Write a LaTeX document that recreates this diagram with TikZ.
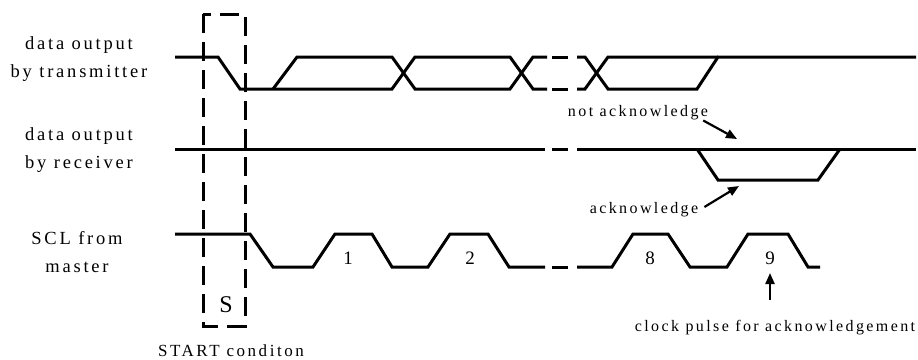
\documentclass[tikz,border=0pt]{standalone}
\usepackage{fontspec}
\setmainfont{Liberation Serif}
\newfontfamily\labfont[LetterSpace=15]{Liberation Serif}
\usepackage{tikz}
\usetikzlibrary{arrows.meta}
\usetikzlibrary{calc}
\usetikzlibrary{positioning}

\tikzset{
  sig/.style={line width=3pt},
  brk/.style={line width=3pt},
  startbox/.style={line width=3pt, dash pattern=on 19pt off 9pt},
  lbl/.style={inner sep=0pt, align=center, font=\labfont\fontsize{18.5}{28}\selectfont},
  note/.style={inner sep=0pt, font=\labfont\fontsize{16}{20}\selectfont},
  num/.style={inner sep=0pt, font=\fontsize{19}{22}\selectfont},
  pointer/.style={line width=2.2pt, -{Triangle[length=11pt,width=9pt]}}
}

\begin{document}
\begin{tikzpicture}[x=1pt, y=-1pt]
    \useasboundingbox (0,0) rectangle (918,359);
    % labels on the left
    \node[lbl] (tx) at (79,59) {data output\\by transmitter};
    \node[lbl] (rx) at (79,150) {data output\\by receiver};
    \node[lbl] (scl) at (77,252) {SCL from\\master};
    % start condition box
    \draw[startbox] (203,14) rectangle (245,326);
    \node[num, font=\fontsize{24}{26}\selectfont] (S) at (226,305) {S};
    \node[note, font=\labfont\fontsize{17}{20}\selectfont] (start) at (231,351) {START conditon};
    % transmitter
    \draw[sig] (175,57) -- (218,57) -- (240,89) -- (392,89) -- (415,57) -- (510,57) -- (533,89) -- (547,89);
    \draw[sig] (273,89) -- (297,57) -- (392,57) -- (415,89) -- (510,89) -- (533,57) -- (547,57);
    \draw[brk] (552,57) -- (568,57);
    \draw[brk] (552,89) -- (568,89);
    \draw[sig] (577,57) -- (585,57) -- (608,89) -- (697,89) -- (718,57) -- (916,57);
    \draw[sig] (577,89) -- (585,89) -- (608,57) -- (718,57);
    % receiver
    \draw[sig] (175,149) -- (545,149);
    \draw[brk] (552,149) -- (568,149);
    \draw[sig] (577,149) -- (916,149);
    \draw[sig] (697,149) -- (718,180) -- (818,180) -- (840,149);
    % clock
    \draw[sig] (175,234) -- (250,234) -- (273,267) -- (313,267) -- (335,234) -- (372,234) -- (392,267) -- (428,267)
      -- (450,234) -- (488,234) -- (509,267) -- (545,267);
    \draw[brk] (552,267) -- (568,267);
    \draw[sig] (577,267) -- (612,267) -- (633,234) -- (668,234) -- (690,267) -- (727,267) -- (748,234) -- (788,234)
      -- (808,267) -- (820,267);
    \node[num] (one) at (348,258) {1};
    \node[num] (two) at (470,258) {2};
    \node[num] (eight) at (650,258) {8};
    \node[num] (nine) at (770,258) {9};
    % notes and pointers
    \node[note] (nack) at (638,113) {not acknowledge};
    \node[note] (ack) at (644,210) {acknowledge};
    \node[note] (clk) at (775,328) {clock pulse for acknowledgement};
    \coordinate (nackend) at (737,139);
    \coordinate (ackend) at (739,186);
    \coordinate (clkfoot) at (770,300);
    \coordinate (clkend) at (770,273);
    \path [pointer] ($(nack.south east)+(-5,0)$) edge (nackend);
    \path [pointer] ($(ack.east)+(6,-3)$) edge (ackend);
    \path [pointer] (clkfoot) edge (clkend);
  \end{tikzpicture}
\end{document}
